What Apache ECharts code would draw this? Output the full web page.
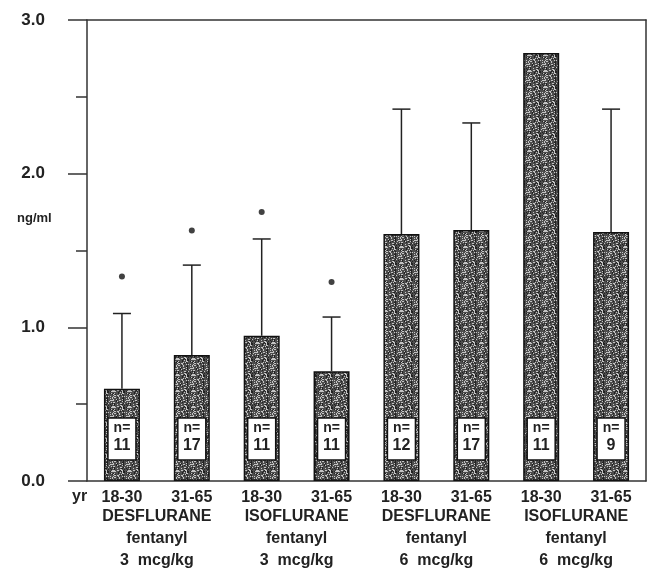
<!DOCTYPE html>
<html>
<head>
<meta charset="utf-8">
<script src="https://cdn.jsdelivr.net/npm/echarts@6/dist/echarts.min.js"></script>
<style>html,body{margin:0;padding:0;background:#fff;}#chart{width:656px;height:574px;}</style>
</head>
<body>
<div id="chart"></div>
<script>
const categories = ['18-30', '31-65', '18-30', '31-65', '18-30', '31-65', '18-30', '31-65'];
const groups = ['DESFLURANE\nfentanyl\n3  mcg/kg', 'ISOFLURANE\nfentanyl\n3  mcg/kg', 'DESFLURANE\nfentanyl\n6  mcg/kg', 'ISOFLURANE\nfentanyl\n6  mcg/kg'];
const means = [0.60, 0.82, 0.945, 0.715, 1.607, 1.633, 2.785, 1.62];
const sdUpper = [1.09, 1.405, 1.575, 1.067, 2.42, 2.33, null, 2.42];
const asterisks = [1.33, 1.63, 1.75, 1.295, null, null, null, null];
const nValues = ['11', '17', '11', '11', '12', '17', '11', '9'];
const yTicks = ['0.0', '1.0', '2.0', '3.0'];

// stipple texture (deterministic hash pattern)
const TS = 16;
const tex = document.createElement('canvas');
tex.width = TS; tex.height = TS;
const tctx = tex.getContext('2d');
tctx.fillStyle = '#4d4d4d';
tctx.fillRect(0, 0, TS, TS);
for (let r = 0; r < TS; r++) {
  for (let c = 0; c < TS; c++) {
    const h = ((c * 73856093) ^ (r * 19349663) ^ (c * r * 83492791)) >>> 0;
    const k = h % 7;
    if (k === 0 || k === 3) { tctx.fillStyle = '#c4c4c4'; tctx.fillRect(c, r, 1, 1); }
    else if (k === 5) { tctx.fillStyle = '#222'; tctx.fillRect(c, r, 1, 1); }
  }
}

const FONT = 'Liberation Sans';
const chart = echarts.init(document.getElementById('chart'));

const errData = [];
sdUpper.forEach((v, i) => { if (v != null) errData.push([i, means[i], v]); });
const starData = [];
asterisks.forEach((v, i) => { if (v != null) starData.push([i, v]); });
const nData = nValues.map((n, i) => [i, n]);

chart.setOption({
  animation: false,
  backgroundColor: '#fff',
  grid: { left: 87, right: 10, top: 20, bottom: 93 },
  xAxis: [
    {
      type: 'category', data: categories, position: 'bottom',
      axisLine: { lineStyle: { color: '#333', width: 1.5 } },
      axisTick: { show: false },
      axisLabel: { interval: 0, margin: 9, fontFamily: FONT, fontWeight: 'bold', fontSize: 16, color: '#222' }
    },
    {
      type: 'category', data: groups, position: 'bottom', gridIndex: 0,
      axisLine: { show: false }, axisTick: { show: false },
      axisLabel: { interval: 0, margin: 25, fontFamily: FONT, fontWeight: 'bold', fontSize: 16, lineHeight: 22, color: '#222' }
    },
    {
      type: 'category', data: categories, position: 'top',
      axisLine: { lineStyle: { color: '#333', width: 1.5 } },
      axisTick: { show: false }, axisLabel: { show: false }
    }
  ],
  yAxis: [
    {
      type: 'value', min: 0, max: 3, interval: 1,
      axisLine: { show: true, lineStyle: { color: '#333', width: 1.5 } },
      axisTick: { show: true, length: 19, lineStyle: { color: '#333', width: 1.5 } },
      minorTick: { show: true, splitNumber: 2, length: 11, lineStyle: { color: '#333', width: 1.5 } },
      splitLine: { show: false },
      axisLabel: {
        margin: 42, fontFamily: FONT, fontWeight: 'bold', fontSize: 17, color: '#222',
        formatter: v => yTicks[Math.round(v)]
      }
    },
    {
      type: 'value', min: 0, max: 3, position: 'right',
      axisLine: { show: true, lineStyle: { color: '#333', width: 1.5 } },
      axisTick: { show: false }, axisLabel: { show: false }, splitLine: { show: false }
    }
  ],
  graphic: [
    { type: 'text', left: 17, top: 212, style: { text: 'ng/ml', font: 'bold 13px "Liberation Sans"', fill: '#222' } },
    { type: 'text', left: 72, top: 489, style: { text: 'yr', font: 'bold 16px "Liberation Sans"', fill: '#222' } }
  ],
  series: [
    {
      type: 'bar', data: means, barWidth: 36, xAxisIndex: 0, yAxisIndex: 0,
      itemStyle: { color: { image: tex, repeat: 'repeat' }, borderColor: '#111', borderWidth: 1.5 },
      z: 2
    },
    {
      type: 'custom', data: errData, xAxisIndex: 0, yAxisIndex: 0, z: 3,
      renderItem: (params, api) => {
        const b = api.coord([api.value(0), api.value(1)]);
        const t = api.coord([api.value(0), api.value(2)]);
        const st = { stroke: '#222', lineWidth: 1.5 };
        return { type: 'group', children: [
          { type: 'line', shape: { x1: b[0], y1: b[1], x2: t[0], y2: t[1] }, style: st },
          { type: 'line', shape: { x1: t[0] - 9, y1: t[1], x2: t[0] + 9, y2: t[1] }, style: st }
        ]};
      }
    },
    {
      type: 'scatter', data: starData, xAxisIndex: 0, yAxisIndex: 0,
      symbol: 'circle', symbolSize: 6, itemStyle: { color: '#111' }, z: 3
    },
    {
      type: 'custom', data: nData, xAxisIndex: 0, yAxisIndex: 0, z: 4,
      renderItem: (params, api) => {
        const p = api.coord([api.value(0), 0]);
        const w = 28, h = 42, x = p[0] - w / 2, y = p[1] - 21 - h;
        return { type: 'group', children: [
          { type: 'rect', shape: { x: x, y: y, width: w, height: h }, style: { fill: '#fff', stroke: '#111', lineWidth: 1.5 } },
          { type: 'text', style: { x: p[0], y: y + 3, text: 'n=', font: 'bold 14px "Liberation Sans"', fill: '#222', align: 'center', verticalAlign: 'top' } },
          { type: 'text', style: { x: p[0], y: y + 20, text: String(nValues[params.dataIndex]), font: 'bold 16px "Liberation Sans"', fill: '#222', align: 'center', verticalAlign: 'top' } }
        ]};
      }
    }
  ]
});
</script>
</body>
</html>
